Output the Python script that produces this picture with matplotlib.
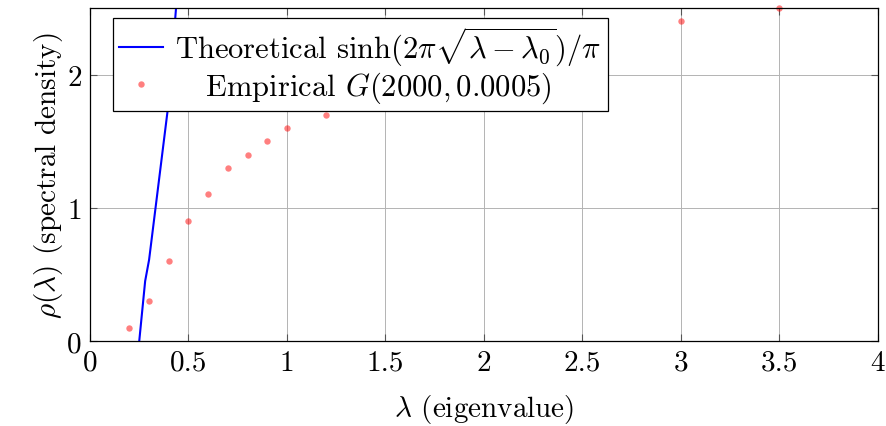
import matplotlib
matplotlib.use("Agg")
import matplotlib.pyplot as plt

plt.rcParams['font.family'] = ['cmr10', 'DejaVu Serif']
plt.rcParams['mathtext.fontset'] = 'cm'
plt.rcParams['axes.formatter.use_mathtext'] = True
plt.rcParams['font.size'] = 21

theory_lam = [0.25, 0.28, 0.30, 0.40, 0.50]
theory_rho = [0.0, 0.45, 0.61, 1.80, 3.70]

# Empirical spectral density points
emp_lam = [0.2, 0.3, 0.4, 0.5, 0.6, 0.7, 0.8, 0.9, 1.0, 1.2, 3.0, 3.5]
emp_rho = [0.1, 0.3, 0.6, 0.9, 1.1, 1.3, 1.4, 1.5, 1.6, 1.7, 2.4, 2.5]

xticks = [0, 0.5, 1, 1.5, 2, 2.5, 3, 3.5, 4]
xtick_labels = ['0', '0.5', '1', '1.5', '2', '2.5', '3', '3.5', '4']
yticks = [0, 1, 2]

fig = plt.figure(figsize=(8.86, 4.27), dpi=100)
ax = fig.add_axes([0.1016, 0.199, 0.889, 0.78])

ax.plot(theory_lam, theory_rho, color='blue', lw=1.5,
        label=r'Theoretical $\sinh(2\pi\sqrt{\lambda-\lambda_0})/\pi$')
ax.plot(emp_lam, emp_rho, ls='none', marker='o', ms=4.6, color='red',
        alpha=0.5, mec='none', clip_on=False,
        label=r'   Empirical $G(2000, 0.0005)$')

ax.set_xlim(0, 4)
ax.set_ylim(0, 2.5)
ax.set_xticks(xticks)
ax.set_xticklabels(xtick_labels)
ax.set_yticks(yticks)
ax.grid(True, color='#b3b3b3', lw=0.7)
ax.set_axisbelow(True)
ax.tick_params(direction='in', length=5, width=0.8, color='#555555',
               top=True, right=True, pad=6)
for s in ax.spines.values():
    s.set_linewidth(0.9)
    s.set_color('black')

ax.set_xlabel(r'$\lambda$ (eigenvalue)', labelpad=12)
ax.set_ylabel(r'$\rho(\lambda)$ (spectral density)', labelpad=1)

leg = ax.legend(loc='upper left', bbox_to_anchor=(0.029, 0.969),
                fancybox=False, framealpha=1, edgecolor='black',
                fontsize=22, borderpad=0.2, handlelength=1.45,
                handletextpad=0.4, labelspacing=0.05, borderaxespad=0)
leg.get_frame().set_linewidth(0.9)

fig.savefig('out.png', dpi=100)
